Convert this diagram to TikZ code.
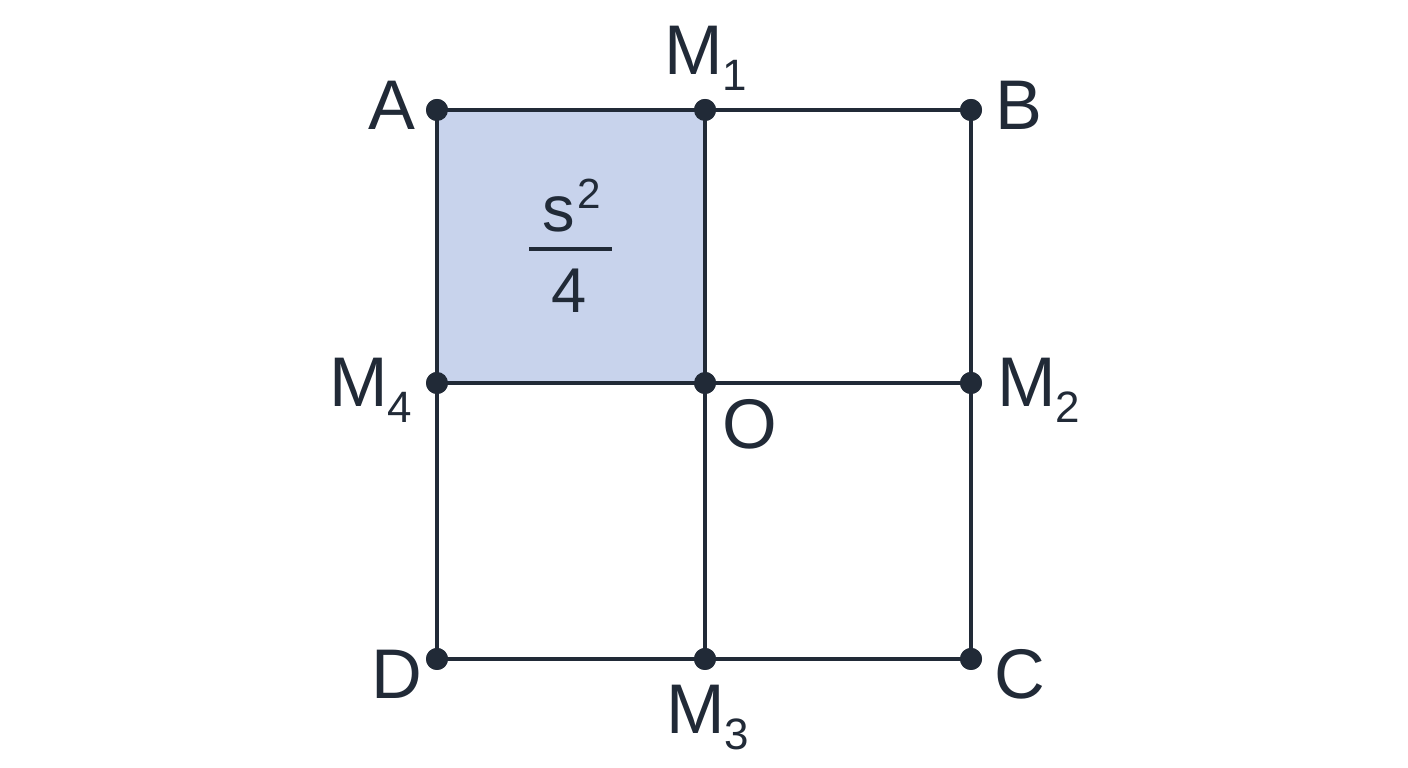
\documentclass[tikz,border=0pt]{standalone}
\usepackage{fontspec}
\setmainfont{Liberation Sans}
\usepackage{tikz}
\usetikzlibrary{positioning}

\definecolor{ink}{RGB}{33,42,55}
\definecolor{quarter}{RGB}{200,211,236}
\newcommand{\Msub}[1]{M\raisebox{-9pt}{\fontsize{25}{25}\selectfont #1}}

\begin{document}
\begin{tikzpicture}[line width=2.6pt, ink,
    vertex/.style={circle, fill=ink, inner sep=0pt, minimum size=0.44cm},
    lbl/.style={inner sep=0pt, font=\fontsize{40}{40}\selectfont, text=ink}]
        \useasboundingbox (0,0) rectangle (28.16,15.36);
        % Points of the square
        \node[vertex] (A) at (8.74,13.16) {};
        \node[vertex] (M1) at (14.10,13.16) {};
        \node[vertex] (B) at (19.42,13.16) {};
        \node[vertex] (M4) at (8.74,7.70) {};
        \node[vertex] (O) at (14.10,7.70) {};
        \node[vertex] (M2) at (19.42,7.70) {};
        \node[vertex] (D) at (8.74,2.18) {};
        \node[vertex] (M3) at (14.10,2.18) {};
        \node[vertex] (C) at (19.42,2.18) {};
        % Shaded quarter
        \fill[quarter] (A.center) rectangle (O.center);
        % Edges
        \draw (A.center) -- (B.center) -- (C.center) -- (D.center) -- cycle;
        \draw (M1.center) -- (M3.center);
        \draw (M4.center) -- (M2.center);
        % Redraw the points on top
        \foreach \p in {A,M1,B,M4,O,M2,D,M3,C}
            \fill (\p) circle (0.22);
        % Labels
        \node[lbl, anchor=base] (lA) at (7.84,12.76) {A};
        \node[lbl, anchor=base west] (lM1) at (13.24,13.86) {\Msub{1}};
        \node[lbl, anchor=base west] (lB) at (19.86,12.76) {B};
        \node[lbl, anchor=base west] (lM4) at (6.54,7.22) {\Msub{4}};
        \node[lbl, anchor=base west] (lO) at (14.41,6.38) {O};
        \node[lbl, anchor=base west] (lM2) at (19.90,7.22) {\Msub{2}};
        \node[lbl, anchor=base west] (lD) at (7.38,1.38) {D};
        \node[lbl, anchor=base west] (lC) at (19.85,1.38) {C};
        \node[lbl, anchor=base west] (lM3) at (13.28,0.68) {\Msub{3}};
        % Area of the quarter
        \node[lbl, anchor=base west, font=\fontsize{37}{37}\selectfont] (sq) at (10.80,10.72)
            {s\hspace{1.5pt}\raisebox{13.6pt}{\fontsize{24}{24}\selectfont 2}};
        \node[lbl, anchor=base, font=\fontsize{36}{36}\selectfont] (four) at (11.38,9.10) {4};
        \draw (10.58,10.38) -- (12.24,10.38);
\end{tikzpicture}
\end{document}
